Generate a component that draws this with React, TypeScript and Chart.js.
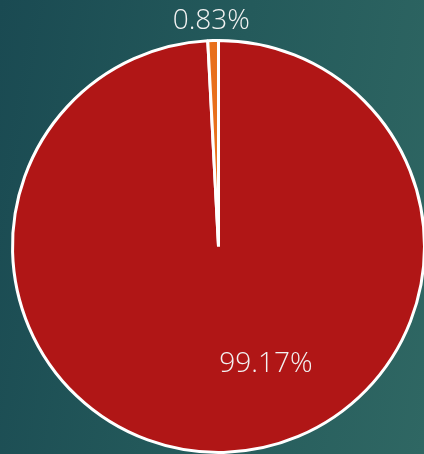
import React, { useEffect, useRef } from "react";
import { Chart, registerables } from "chart.js";

Chart.register(...registerables);

const categories = ["Main", "Other"];
const shares = [99.17, 0.83];
const valueLabels = ["99.17%", "0.83%"];
const sliceColors = ["#b01616", "#e8701c"];

const labelPlugin = {
  id: "sliceLabels",
  afterDatasetsDraw(chart: any) {
    const meta = chart.getDatasetMeta(0);
    const ctx = chart.ctx;
    ctx.save();
    ctx.fillStyle = "#f2f2f2";
    ctx.font = "300 28px 'Open Sans', Lato, sans-serif";
    ctx.textAlign = "center";
    ctx.textBaseline = "middle";
    meta.data.forEach((arc: any, i: number) => {
      const r = arc.outerRadius;
      let x: number, y: number;
      if (i === 0) {
        x = arc.x + 0.23 * r;
        y = arc.y + 0.57 * r;
      } else {
        x = arc.x - 0.035 * r;
        y = arc.y - r - 19;
      }
      ctx.fillText(valueLabels[i], x, y);
    });
    ctx.restore();
  },
};

export default function App() {
  const ref = useRef<HTMLCanvasElement | null>(null);
  useEffect(() => {
    document.body.style.margin = "0";
    const chart = new Chart(ref.current as HTMLCanvasElement, {
      type: "pie",
      data: {
        labels: categories,
        datasets: [
          {
            data: shares,
            backgroundColor: sliceColors,
            borderColor: "#ffffff",
            borderWidth: 3,
          },
        ],
      },
      options: {
        animation: false,
        responsive: false,
        layout: { padding: { left: 11, right: 14, top: 39, bottom: 6 } },
        plugins: { legend: { display: false }, tooltip: { enabled: false } },
      },
      plugins: [labelPlugin],
    });
    return () => chart.destroy();
  }, []);
  return (
    <div
      style={{
        position: "fixed",
        left: 0,
        top: 0,
        width: 424,
        height: 454,
        overflow: "hidden",
        background: "linear-gradient(100deg, #1a4a52 0%, #245a5b 50%, #2f6763 100%)",
      }}
    >
      <canvas ref={ref} width={440} height={460} style={{ display: "block" }} />
    </div>
  );
}
